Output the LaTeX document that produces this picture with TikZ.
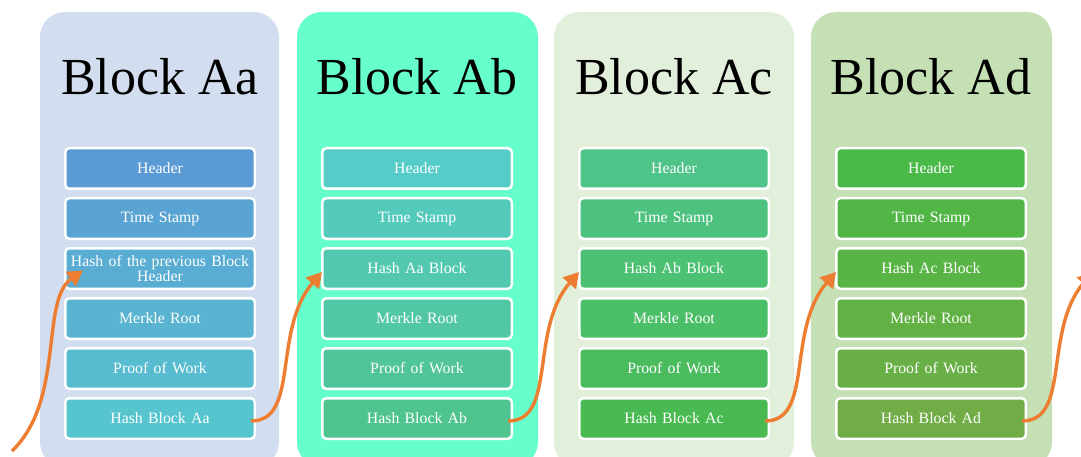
\documentclass[tikz,border=0pt]{standalone}
\usepackage{fontspec}
\setmainfont{Liberation Serif}
\usetikzlibrary{arrows.meta,calc}
\definecolor{panA}{HTML}{D2DEEF}
\definecolor{panB}{HTML}{66FFCC}
\definecolor{panC}{HTML}{E2EFDA}
\definecolor{panD}{HTML}{C5E0B4}
\definecolor{arrowc}{HTML}{ED7D31}
\definecolor{a1}{HTML}{5B9BD5}\definecolor{a2}{HTML}{5AA4D3}\definecolor{a3}{HTML}{59ACD2}
\definecolor{a4}{HTML}{58B4D0}\definecolor{a5}{HTML}{57BCCF}\definecolor{a6}{HTML}{56C5CD}
\definecolor{b1}{HTML}{55CCC7}\definecolor{b2}{HTML}{54CABB}\definecolor{b3}{HTML}{53C8B0}
\definecolor{b4}{HTML}{52C7A5}\definecolor{b5}{HTML}{51C59A}\definecolor{b6}{HTML}{50C48F}
\definecolor{c1}{HTML}{4EC488}\definecolor{c2}{HTML}{4DC27E}\definecolor{c3}{HTML}{4CC073}
\definecolor{c4}{HTML}{4BBE68}\definecolor{c5}{HTML}{4ABC5E}\definecolor{c6}{HTML}{49BA52}
\definecolor{d1}{HTML}{49B948}\definecolor{d2}{HTML}{52B647}\definecolor{d3}{HTML}{59B446}
\definecolor{d4}{HTML}{61B145}\definecolor{d5}{HTML}{68AF46}\definecolor{d6}{HTML}{70AD47}
\tikzset{
  panel/.style={rounded corners=25pt},
  cell/.style={draw=white, line width=2.5pt, rounded corners=4pt, minimum width=189.5pt,
    minimum height=40.5pt, inner sep=1pt, text=white, align=center, text width=186pt,
    font=\fontsize{15.8}{16}\selectfont},
  title/.style={anchor=base, inner sep=0pt, font=\fontsize{52}{52}\selectfont},
  link/.style={draw=arrowc, line width=3.4pt, -{Triangle[width=17pt,length=15pt]}}
}
\begin{document}
\begin{tikzpicture}[x=1pt,y=-1pt]
\useasboundingbox (0,0) rectangle (1081,457);
\begin{scope}
\clip (0,0) rectangle (1081,457);
\fill[panA,panel] (40,12) rectangle (279,467);
\fill[panB,panel] (297,12) rectangle (538,467);
\fill[panC,panel] (554,12) rectangle (794,467);
\fill[panD,panel] (811,12) rectangle (1052,467);
\end{scope}
\node[title] (ta) at (160,95) {Block Aa};
\node[title] (tb) at (417,95) {Block Ab};
\node[title] (tc) at (674,95) {Block Ac};
\node[title] (td) at (931,95) {Block Ad};
% column A
\node[cell,fill=a1] (A1) at (160,168.5) {Header};
\node[cell,fill=a2] (A2) at (160,218.5) {Time Stamp};
\node[cell,fill=a3] (A3) at (160,268.5) {Hash of the previous Block\\[-1pt]Header};
\node[cell,fill=a4] (A4) at (160,318.5) {Merkle Root};
\node[cell,fill=a5] (A5) at (160,368.5) {Proof of Work};
\node[cell,fill=a6] (A6) at (160,418.5) {Hash Block Aa};
% column B
\node[cell,fill=b1] (B1) at (417,168.5) {Header};
\node[cell,fill=b2] (B2) at (417,218.5) {Time Stamp};
\node[cell,fill=b3] (B3) at (417,268.5) {Hash Aa Block};
\node[cell,fill=b4] (B4) at (417,318.5) {Merkle Root};
\node[cell,fill=b5] (B5) at (417,368.5) {Proof of Work};
\node[cell,fill=b6] (B6) at (417,418.5) {Hash Block Ab};
% column C
\node[cell,fill=c1] (C1) at (674,168.5) {Header};
\node[cell,fill=c2] (C2) at (674,218.5) {Time Stamp};
\node[cell,fill=c3] (C3) at (674,268.5) {Hash Ab Block};
\node[cell,fill=c4] (C4) at (674,318.5) {Merkle Root};
\node[cell,fill=c5] (C5) at (674,368.5) {Proof of Work};
\node[cell,fill=c6] (C6) at (674,418.5) {Hash Block Ac};
% column D
\node[cell,fill=d1] (D1) at (931,168.5) {Header};
\node[cell,fill=d2] (D2) at (931,218.5) {Time Stamp};
\node[cell,fill=d3] (D3) at (931,268.5) {Hash Ac Block};
\node[cell,fill=d4] (D4) at (931,318.5) {Merkle Root};
\node[cell,fill=d5] (D5) at (931,368.5) {Proof of Work};
\node[cell,fill=d6] (D6) at (931,418.5) {Hash Block Ad};
% free ends
\coordinate (in0) at (12,451);
\coordinate (out4) at ($(D6.east)+(66,-146.5)$);
\begin{scope}
\clip (0,0) rectangle (1081,457);
\draw[link] (in0) .. controls +(53,-51) and +(-43,30) .. ($(A3.west)+(19,2)$);
\draw[link] ($(A6.east)+(-5,2.5)$) .. controls +(49,0) and +(-50,58) .. ($(B3.west)+(1,3.5)$);
\draw[link] ($(B6.east)+(-5,2.5)$) .. controls +(49,0) and +(-50,58) .. ($(C3.west)+(1,3.5)$);
\draw[link] ($(C6.east)+(-5,2.5)$) .. controls +(49,0) and +(-50,58) .. ($(D3.west)+(1,3.5)$);
\draw[link] ($(D6.east)+(-5,2.5)$) .. controls +(49,0) and +(-50,58) .. (out4);
\end{scope}
\end{tikzpicture}
\end{document}
